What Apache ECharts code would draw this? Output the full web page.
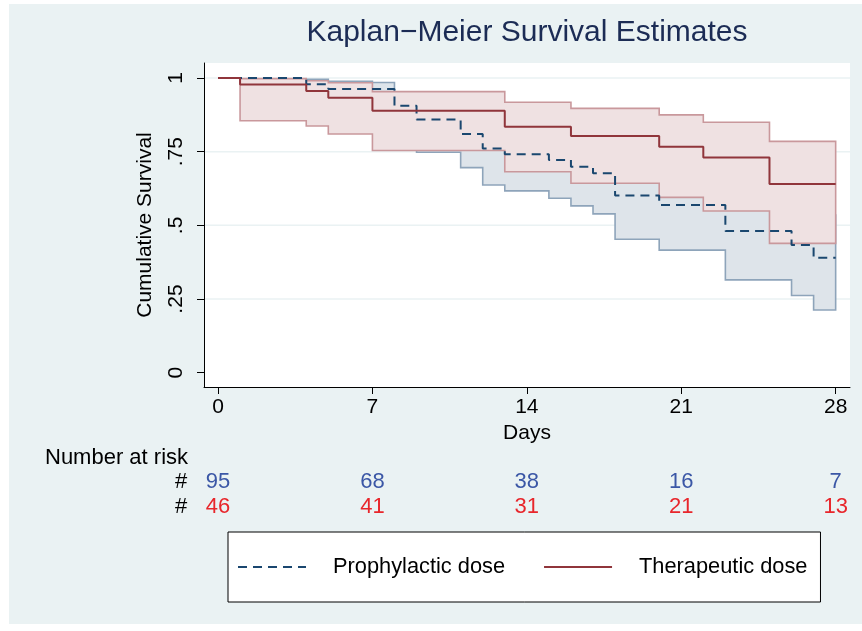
<!DOCTYPE html>
<html><head><meta charset="utf-8">
<script src="https://cdn.jsdelivr.net/npm/echarts@6/dist/echarts.min.js"></script>
<style>html,body{margin:0;padding:0;background:#fff;} #c{width:862px;height:631px;}</style>
</head><body><div id="c"></div>
<script>
// ---- data ----
const chartTitle = 'Kaplan\u2212Meier Survival Estimates';
const tickDays = [0, 7, 14, 21, 28];
const yTicks = [0, 0.25, 0.5, 0.75, 1];
const yTickLabels = ['0', '.25', '.5', '.75', '1'];
const gridValues = [0.25, 0.5, 0.75, 1];
const seriesNames = ['Prophylactic dose', 'Therapeutic dose'];

const proTime = [0, 4, 5, 8, 9, 11, 12, 13, 15, 16, 17, 18, 20, 23, 26, 27, 28];
const proSurv = [1, 0.979, 0.963, 0.906, 0.859, 0.810, 0.761, 0.741, 0.722, 0.699, 0.677, 0.601, 0.569, 0.481, 0.433, 0.390, 0.390];
const therTime = [0, 1, 4, 5, 7, 13, 16, 20, 22, 25, 28];
const therSurv = [1, 0.978, 0.956, 0.933, 0.889, 0.835, 0.803, 0.767, 0.730, 0.640, 0.640];

const proCITime = [4, 5, 7, 8, 9, 11, 12, 13, 15, 16, 17, 18, 20, 23, 26, 27, 28];
const proUpper = [0.996, 0.989, 0.985, 0.951, 0.92, 0.88, 0.845, 0.83, 0.81, 0.79, 0.77, 0.70, 0.68, 0.62, 0.575, 0.535, 0.535];
const proLower = [0.935, 0.905, 0.905, 0.80, 0.748, 0.696, 0.637, 0.617, 0.592, 0.566, 0.539, 0.453, 0.416, 0.315, 0.262, 0.213, 0.213];
const therCITime = [1, 4, 5, 7, 13, 16, 20, 22, 25, 28];
const therUpper = [0.998, 0.991, 0.984, 0.954, 0.918, 0.897, 0.875, 0.850, 0.785, 0.785];
const therLower = [0.855, 0.837, 0.810, 0.754, 0.682, 0.643, 0.595, 0.549, 0.439, 0.439];

const riskPro = [95, 68, 38, 16, 7];
const riskTher = [46, 41, 31, 21, 13];

// ---- styling ----
const FONT = 'Liberation Sans, Arial, Helvetica, sans-serif';
const xMin = -0.635, xMax = 28.65, yMin = -0.0485, yMax = 1.051;
const C = {
  bg: '#eaf2f3', grid: '#eaf2f3',
  proLine: '#1a476f', therLine: '#90353b',
  proFill: '#dee4ea', proCI: '#8ea4ba',
  therFill: '#efe1e2', therCI: '#c9989c',
  riskPro: '#3b57a6', riskTher: '#e8262b', title: '#1c2c55'
};

function bandSeries(name, times, lo, up, fill, stroke, z) {
  return {
    type: 'custom', name: name, z: z, silent: true,
    data: [[times[0], lo[0]]],
    encode: {x: 0, y: 1},
    renderItem: function (params, api) {
      const pts = [];
      for (let i = 0; i < times.length - 1; i++) {
        pts.push(api.coord([times[i], up[i]]));
        pts.push(api.coord([times[i + 1], up[i]]));
      }
      for (let i = times.length - 2; i >= 0; i--) {
        pts.push(api.coord([times[i + 1], lo[i]]));
        pts.push(api.coord([times[i], lo[i]]));
      }
      return {type: 'polygon', shape: {points: pts},
        style: {fill: fill, stroke: stroke, lineWidth: 1.6, lineJoin: 'miter'}};
    }
  };
}

const chart = echarts.init(document.getElementById('c'), null, {renderer: 'canvas'});
const xCommon = {type: 'value', min: xMin, max: xMax, gridIndex: 0};
const option = {
  animation: false,
  backgroundColor: 'transparent',
  textStyle: {fontFamily: FONT},
  graphic: [
    {type: 'rect', z: -100, silent: true, shape: {x: 9, y: 4, width: 853, height: 620}, style: {fill: C.bg}},
    {type: 'text', z: 10, x: 527, y: 33, style: {text: chartTitle, font: '30px ' + FONT, fill: C.title, textAlign: 'center', textVerticalAlign: 'middle'}},
    {type: 'text', z: 10, x: 45, y: 458, style: {text: 'Number at risk', font: '22px ' + FONT, fill: '#000', textAlign: 'left', textVerticalAlign: 'middle'}},
    {type: 'text', z: 10, x: 181, y: 482, style: {text: '#', font: '22px ' + FONT, fill: '#000', textAlign: 'center', textVerticalAlign: 'middle'}},
    {type: 'text', z: 10, x: 181, y: 507, style: {text: '#', font: '22px ' + FONT, fill: '#000', textAlign: 'center', textVerticalAlign: 'middle'}}
  ],
  grid: {left: 204, top: 63, width: 646, height: 324, show: true, backgroundColor: '#fff', borderWidth: 0, containLabel: false, outerBoundsMode: 'none'},
  legend: {
    data: seriesNames, left: 228, top: 532, orient: 'horizontal',
    backgroundColor: '#fff', borderColor: '#000', borderWidth: 1, borderRadius: 0,
    padding: [24, 13, 24, 9], itemGap: 38, itemWidth: 68, itemHeight: 14,
    itemStyle: {opacity: 0},
    textStyle: {fontSize: 21.8, color: '#000', fontFamily: FONT, padding: [0, 0, 0, 22]},
    selectedMode: false
  },
  xAxis: [
    Object.assign({}, xCommon, {
      position: 'bottom', name: 'Days', nameLocation: 'middle', nameGap: 35,
      nameTextStyle: {fontSize: 21, color: '#000', fontFamily: FONT},
      axisLine: {show: true, onZero: false, lineStyle: {color: '#000', width: 1}},
      axisTick: {show: true, length: 7, customValues: tickDays, lineStyle: {color: '#000'}},
      axisLabel: {customValues: tickDays, margin: 10, fontSize: 21, color: '#000', fontFamily: FONT},
      splitLine: {show: false}
    }),
    Object.assign({}, xCommon, {
      position: 'bottom', offset: 84,
      axisLine: {show: false}, axisTick: {show: false}, splitLine: {show: false},
      axisLabel: {customValues: tickDays, margin: 0, fontSize: 22, color: C.riskPro, fontFamily: FONT,
        formatter: function (v) { return String(riskPro[tickDays.indexOf(v)]); }}
    }),
    Object.assign({}, xCommon, {
      position: 'bottom', offset: 109,
      axisLine: {show: false}, axisTick: {show: false}, splitLine: {show: false},
      axisLabel: {customValues: tickDays, margin: 0, fontSize: 22, color: C.riskTher, fontFamily: FONT,
        formatter: function (v) { return String(riskTher[tickDays.indexOf(v)]); }}
    })
  ],
  yAxis: {
    type: 'value', min: yMin, max: yMax,
    name: 'Cumulative Survival', nameLocation: 'middle', nameGap: 48,
    nameTextStyle: {fontSize: 21, color: '#000', fontFamily: FONT},
    axisLine: {show: true, onZero: false, lineStyle: {color: '#000', width: 1}},
    axisTick: {show: true, length: 7, customValues: yTicks, lineStyle: {color: '#000'}},
    axisLabel: {customValues: yTicks, rotate: 90, margin: 17, fontSize: 21, color: '#000', fontFamily: FONT,
      formatter: function (v) { const i = yTicks.indexOf(v); return i >= 0 ? yTickLabels[i] : ''; }},
    splitLine: {show: false}
  },
  series: [
    {
      type: 'custom', name: 'grid', z: 0, silent: true,
      data: gridValues.map(function (v) { return [0, v]; }),
      encode: {x: 0, y: 1},
      renderItem: function (params, api) {
        const v = api.value(1);
        const p1 = api.coord([xMin, v]), p2 = api.coord([xMax, v]);
        return {type: 'line', shape: {x1: p1[0], y1: p1[1], x2: p2[0], y2: p2[1]},
          style: {stroke: C.grid, lineWidth: 1.5}};
      }
    },
    bandSeries('proCI', proCITime, proLower, proUpper, C.proFill, C.proCI, 1),
    bandSeries('therCI', therCITime, therLower, therUpper, C.therFill, C.therCI, 3),
    {
      type: 'line', name: seriesNames[0], z: 5, step: 'end', symbol: 'none', silent: true,
      data: proTime.map(function (t, i) { return [t, proSurv[i]]; }),
      lineStyle: {color: C.proLine, width: 2, type: [9, 6]},
      itemStyle: {color: C.proLine}
    },
    {
      type: 'line', name: seriesNames[1], z: 6, step: 'end', symbol: 'none', silent: true,
      data: therTime.map(function (t, i) { return [t, therSurv[i]]; }),
      lineStyle: {color: C.therLine, width: 2},
      itemStyle: {color: C.therLine}
    }
  ]
};
chart.setOption(option);
</script>
</body></html>
